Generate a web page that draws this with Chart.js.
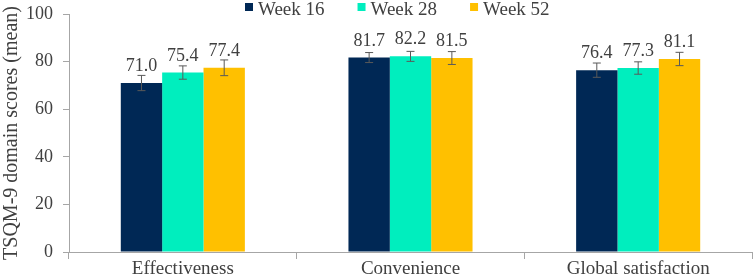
<!DOCTYPE html>
<html>
<head>
<meta charset="utf-8">
<script src="https://cdn.jsdelivr.net/npm/chart.js@4"></script>
<style>
  html, body { margin: 0; padding: 0; background: #fff; }
</style>
</head>
<body>
<canvas id="chart" width="753" height="280"></canvas>
<script>
const categories = ["Effectiveness", "Convenience", "Global satisfaction"];
const seriesNames = ["Week 16", "Week 28", "Week 52"];
const week16 = [71.0, 81.7, 76.4];
const week28 = [75.4, 82.2, 77.3];
const week52 = [77.4, 81.5, 81.1];
// half-width of the error bars
const week16Err = [3.2, 2.1, 3.0];
const week28Err = [2.8, 2.1, 2.6];
const week52Err = [3.3, 2.7, 2.8];
const yTicks = [0, 20, 40, 60, 80, 100];

const colors = ["#002855", "#00EEBE", "#FFC000"];
const axisColor = "#a6a6a6";
const textColor = "#404040";
const serif = "'Liberation Serif', 'Times New Roman', serif";

const values = [week16, week28, week52];
const errors = [week16Err, week28Err, week52Err];

// error bars + value labels, drawn through the chart's own scales
const errorBars = {
  id: "errorBars",
  afterDatasetsDraw(chart) {
    const { ctx } = chart;
    const y = chart.scales.y;
    ctx.save();
    chart.data.datasets.forEach((ds, i) => {
      const meta = chart.getDatasetMeta(i);
      meta.data.forEach((bar, j) => {
        const v = ds.data[j];
        const e = errors[i][j];
        const top = y.getPixelForValue(v + e);
        const bot = y.getPixelForValue(v - e);
        ctx.strokeStyle = "#595959";
        ctx.lineWidth = 1;
        ctx.beginPath();
        ctx.moveTo(bar.x, top);
        ctx.lineTo(bar.x, bot);
        ctx.moveTo(bar.x - 4, top);
        ctx.lineTo(bar.x + 4, top);
        ctx.moveTo(bar.x - 4, bot);
        ctx.lineTo(bar.x + 4, bot);
        ctx.stroke();

        ctx.fillStyle = textColor;
        ctx.font = "18px " + serif;
        ctx.textAlign = "center";
        ctx.textBaseline = "alphabetic";
        ctx.fillText(v.toFixed(1), bar.x, y.getPixelForValue(v) - 12);
      });
    });
    ctx.restore();
  },
};

// legend row at the very top, above the plot area
const topLegend = {
  id: "topLegend",
  afterDraw(chart) {
    const { ctx } = chart;
    ctx.save();
    ctx.font = "19px " + serif;
    ctx.textBaseline = "middle";
    ctx.textAlign = "left";
    let x = 245;
    chart.data.datasets.forEach((ds) => {
      ctx.fillStyle = ds.backgroundColor;
      ctx.fillRect(x, 3, 8, 8);
      x += 13;
      ctx.fillStyle = textColor;
      ctx.fillText(ds.label, x, 10);
      x += ctx.measureText(ds.label).width + 33;
    });
    ctx.restore();
  },
};

new Chart(document.getElementById("chart"), {
  type: "bar",
  plugins: [errorBars, topLegend],
  data: {
    labels: categories,
    datasets: seriesNames.map((name, i) => ({
      label: name,
      data: values[i],
      backgroundColor: colors[i],
      categoryPercentage: 0.545,
      barPercentage: 1,
    })),
  },
  options: {
    responsive: false,
    animation: false,
    layout: { padding: { top: 0, right: 1, bottom: 0, left: 0 } },
    plugins: {
      legend: { display: false },
      tooltip: { enabled: false },
    },
    scales: {
      x: {
        grid: { drawOnChartArea: false, tickLength: 7, color: axisColor, offset: true },
        border: { color: axisColor },
        ticks: { color: textColor, font: { family: serif, size: 19, lineHeight: 1 }, padding: 1 },
      },
      y: {
        min: 0,
        max: 100,
        afterBuildTicks: (scale) => {
          scale.ticks = yTicks.map((v) => ({ value: v }));
        },
        afterFit: (scale) => {
          scale.width = 69;
          scale.paddingTop = 14;
          scale.paddingBottom = 10;
        },
        grid: { drawOnChartArea: false, tickLength: 6, color: axisColor },
        border: { color: axisColor },
        ticks: { color: textColor, font: { family: serif, size: 18 }, padding: 10 },
        title: {
          display: true,
          text: "TSQM-9 domain scores (mean)",
          color: textColor,
          font: { family: serif, size: 20 },
          padding: { top: 0, bottom: 1 },
        },
      },
    },
  },
});
</script>
</body>
</html>
